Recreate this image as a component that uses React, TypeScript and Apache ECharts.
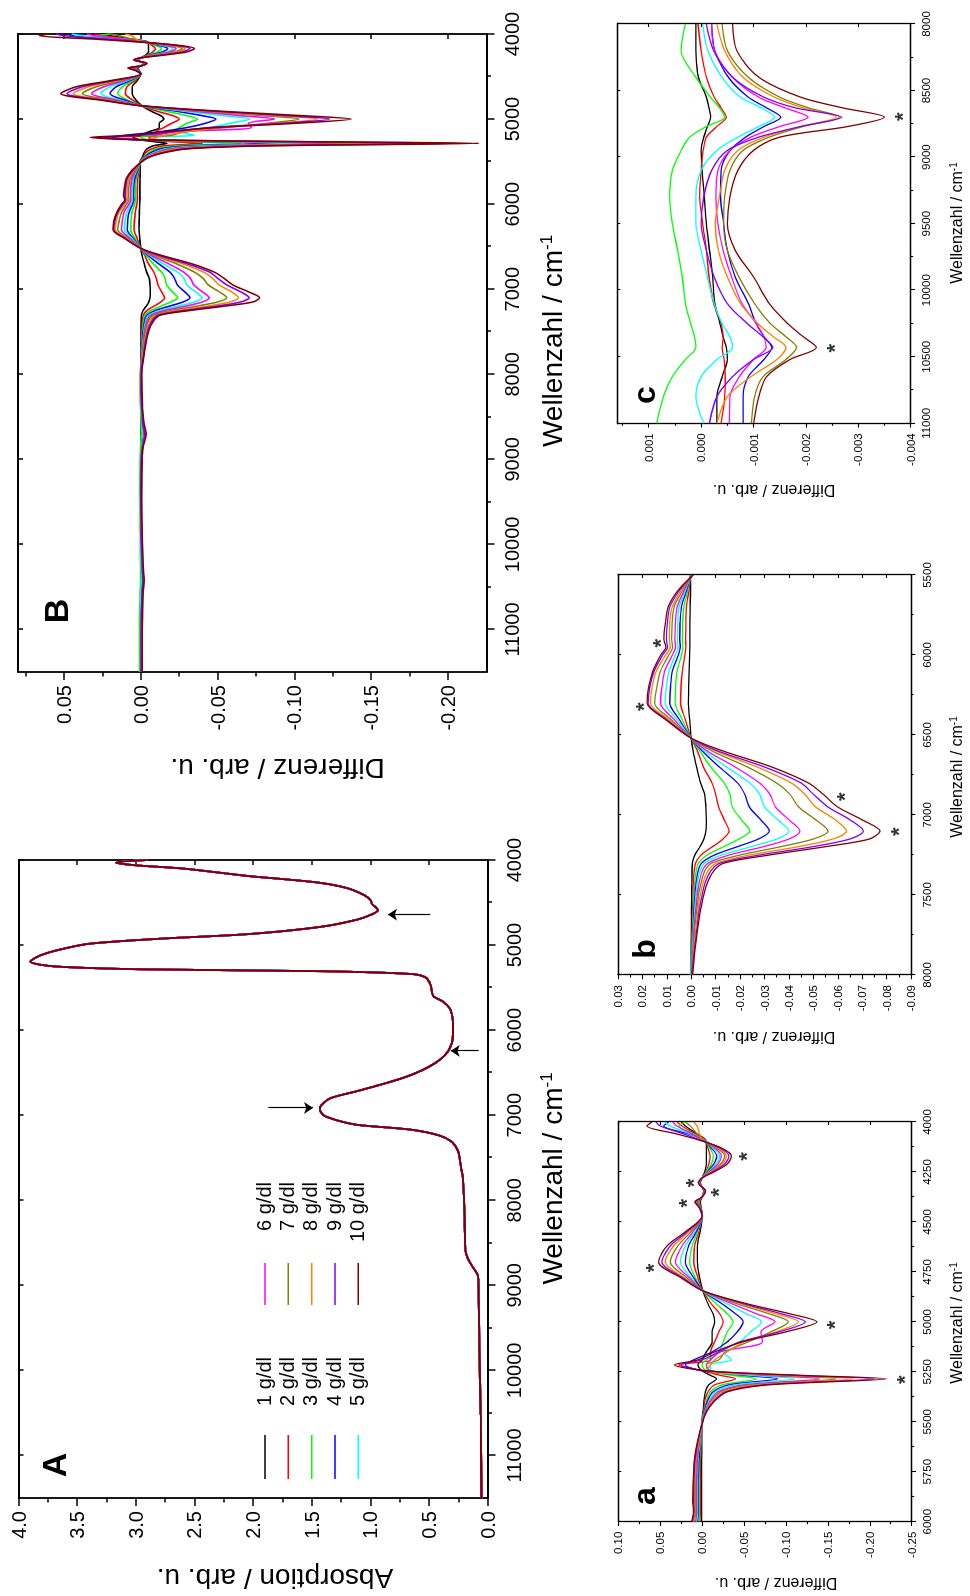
import React, { useEffect, useRef } from "react";
import * as echarts from "echarts";

const FONT = '"Liberation Sans", Arial, Helvetica, sans-serif';

const SERIES_NAMES = ["1 g/dl", "2 g/dl", "3 g/dl", "4 g/dl", "5 g/dl", "6 g/dl", "7 g/dl", "8 g/dl", "9 g/dl", "10 g/dl"];
const SERIES_COLORS = ["#000000", "#FF0000", "#00FF00", "#0000FF", "#00FFFF", "#FF00FF", "#808000", "#FF8000", "#8000FF", "#800000"];

// ---------- Panel A: absorption spectrum ----------
const WN_A = [4000, 4030, 4060, 4100, 4150, 4190, 4230, 4270, 4330, 4415, 4470, 4520, 4560, 4590, 4640, 4700, 4785, 4870, 4925, 4985, 5057, 5125, 5193, 5250, 5285, 5307, 5340, 5380, 5466, 5580, 5608, 5665, 5750, 5850, 5950, 6050, 6150, 6245, 6340, 6430, 6520, 6600, 6716, 6800, 6886, 6932, 7000, 7028, 7070, 7114, 7170, 7239, 7313, 7398, 7455, 7625, 7740, 8023, 8307, 8591, 8680, 8762, 8903, 9160, 9727, 10523, 11500];
const ABS_A = [2.90, 3.17, 3.02, 2.60, 2.28, 2.03, 1.70, 1.42, 1.20, 1.05, 1.00, 0.985, 0.95, 0.935, 0.99, 1.11, 1.42, 2.03, 2.79, 3.40, 3.66, 3.82, 3.90, 3.70, 2.94, 1.42, 0.65, 0.53, 0.487, 0.47, 0.457, 0.38, 0.32, 0.30, 0.295, 0.295, 0.305, 0.335, 0.40, 0.50, 0.64, 0.81, 1.11, 1.34, 1.42, 1.43, 1.40, 1.355, 1.26, 1.11, 0.655, 0.41, 0.305, 0.26, 0.245, 0.225, 0.21, 0.20, 0.195, 0.19, 0.17, 0.137, 0.08, 0.076, 0.07, 0.06, 0.052];
// arrows: [wavenumber, tail value, tip value]
const ARROWS_A = [[4642, 0.49, 0.85], [6244, 0.076, 0.314], [6915, 1.87, 1.49]];

// ---------- Difference spectra, 4000-5450 cm-1 (panel a) ----------
const WN_LOW = [4000, 4020, 4060, 4090, 4130, 4170, 4210, 4250, 4280, 4305, 4345, 4375, 4400, 4430, 4470, 4550, 4620, 4700, 4780, 4845, 4910, 4960, 5000, 5050, 5100, 5150, 5190, 5215, 5245, 5268, 5285, 5315, 5350, 5400, 5450];
const LOW_VALUES = [
  [0.025, 0.02, 0.006, -0.004, -0.005, -0.005, -0.005, -0.003, 0, 0.002, -0.002, 0, 0.002, 0.001, 0, 0.0024, 0.0056, 0.0056, 0.003, -0.001, -0.007, -0.013, -0.015, -0.012, -0.012, -0.005, 0, 0.005, 0, -0.01, -0.017, -0.008, -0.004, -0.002, -0.001],
  [0.03, 0.024, 0.008, -0.004, -0.007, -0.0095, -0.008, -0.004, 0, 0.0025, -0.002, 0, 0.003, 0.0012, 0, 0.004, 0.009, 0.01, 0.005, -0.001, -0.011, -0.021, -0.025, -0.02, -0.015, -0.01, -0.01, 0.028, 0, -0.022, -0.04, -0.015, -0.007, -0.003, -0.0015],
  [0.02, 0.028, 0.01, -0.003, -0.009, -0.0135, -0.011, -0.005, 0, 0.003, -0.0025, 0, 0.004, 0.0015, 0, 0.0056, 0.012, 0.015, 0.008, -0.001, -0.017, -0.03, -0.037, -0.03, -0.025, -0.02, -0.005, 0, -0.005, -0.036, -0.065, -0.024, -0.01, -0.005, -0.002],
  [0.04, 0.046, 0.016, -0.002, -0.011, -0.0175, -0.014, -0.006, 0, 0.003, -0.0025, 0, 0.005, 0.0018, 0, 0.0072, 0.016, 0.02, 0.01, -0.001, -0.024, -0.04, -0.049, -0.042, -0.03, -0.012, 0.01, 0.02, 0, -0.05, -0.09, -0.032, -0.013, -0.006, -0.0025],
  [0.045, 0.038, 0.014, -0.002, -0.013, -0.021, -0.017, -0.007, 0, 0.0035, -0.003, 0, 0.0055, 0.002, 0, 0.0091, 0.02, 0.026, 0.013, -0.001, -0.03, -0.053, -0.071, -0.058, -0.045, -0.025, -0.035, -0.01, -0.01, -0.06, -0.11, -0.04, -0.016, -0.008, -0.003],
  [0.035, 0.03, 0.012, -0.001, -0.015, -0.023, -0.019, -0.008, 0, 0.0035, -0.003, 0, 0.006, 0.0022, 0, 0.0111, 0.024, 0.032, 0.015, -0.001, -0.036, -0.065, -0.087, -0.07, -0.072, -0.022, -0.01, -0.005, -0.01, -0.077, -0.14, -0.05, -0.019, -0.009, -0.0035],
  [0.02, 0.014, 0.006, 0, -0.017, -0.027, -0.022, -0.009, 0, 0.004, -0.0035, 0, 0.007, 0.0025, 0, 0.0135, 0.029, 0.038, 0.018, -0.001, -0.042, -0.08, -0.103, -0.082, -0.055, -0.028, -0.02, -0.005, -0.008, -0.088, -0.16, -0.058, -0.022, -0.01, -0.004],
  [0.01, 0.006, 0.003, 0, -0.019, -0.029, -0.024, -0.01, 0, 0.004, -0.0035, 0, 0.0075, 0.0028, 0, 0.0163, 0.034, 0.044, 0.021, -0.001, -0.047, -0.088, -0.115, -0.088, -0.05, -0.03, -0.015, -0.01, -0.005, -0.099, -0.18, -0.065, -0.025, -0.011, -0.0045],
  [0.055, 0.05, 0.022, 0.002, -0.021, -0.032, -0.027, -0.012, 0, 0.0045, -0.004, 0, 0.008, 0.003, 0, 0.0183, 0.038, 0.048, 0.023, -0.001, -0.05, -0.095, -0.123, -0.092, -0.045, -0.02, 0, 0.025, -0.005, -0.113, -0.205, -0.074, -0.028, -0.013, -0.005],
  [0.06, 0.066, 0.03, 0.004, -0.023, -0.035, -0.03, -0.014, 0, 0.0045, -0.004, 0, 0.0085, 0.0032, 0, 0.0203, 0.042, 0.052, 0.025, -0.001, -0.054, -0.105, -0.137, -0.1, -0.048, -0.015, 0.005, 0.033, -0.005, -0.121, -0.22, -0.08, -0.03, -0.014, -0.005],
];

// ---------- Difference spectra, 5500-8000 cm-1 (panel b) ----------
const WN_MID = [5500, 5600, 5700, 5800, 5900, 5950, 6000, 6100, 6200, 6300, 6400, 6520, 6600, 6700, 6800, 6870, 6950, 7030, 7100, 7150, 7200, 7250, 7300, 7350, 7450, 7600, 7800, 8000];
const MID_VALUES = [
  [0.0003, 0.0003, 0.0005, 0.0006, 0.0006, 0.0006, 0.0007, 0.0009, 0.0011, 0.0012, 0.0007, 0, -0.0008, -0.0022, -0.0038, -0.0055, -0.006, -0.0062, -0.006, -0.0052, -0.0035, -0.0015, -0.0005, -0.0003, -0.0002, -0.0001, 0, 0.0001],
  [0.0003, 0.001, 0.002, 0.0022, 0.0023, 0.0022, 0.0026, 0.0036, 0.0042, 0.0044, 0.0025, 0, -0.0025, -0.005, -0.0085, -0.010, -0.0112, -0.0135, -0.0155, -0.013, -0.0085, -0.004, -0.0018, -0.0012, -0.0008, -0.0005, -0.0002, 0.00006],
  [0.0002, 0.0015, 0.003, 0.0035, 0.0036, 0.0034, 0.004, 0.0058, 0.0064, 0.0066, 0.0038, 0, -0.0035, -0.008, -0.0135, -0.0158, -0.0168, -0.0205, -0.024, -0.0195, -0.013, -0.0065, -0.003, -0.002, -0.0013, -0.0008, -0.0003, 0.0003],
  [0.0001, 0.002, 0.004, 0.0046, 0.0047, 0.0045, 0.0053, 0.0077, 0.0085, 0.0088, 0.005, 0, -0.0045, -0.0115, -0.019, -0.0219, -0.0238, -0.0285, -0.032, -0.0275, -0.0185, -0.0095, -0.0043, -0.0028, -0.0018, -0.0011, -0.0005, -0.0002],
  [0, 0.0025, 0.005, 0.0055, 0.0057, 0.0054, 0.0065, 0.0091, 0.0102, 0.0107, 0.006, 0, -0.0055, -0.0145, -0.024, -0.028, -0.030, -0.0355, -0.040, -0.035, -0.024, -0.0125, -0.0056, -0.0036, -0.0023, -0.0014, -0.0006, -0.00003],
  [0, 0.003, 0.0058, 0.0065, 0.0067, 0.0064, 0.0077, 0.0109, 0.012, 0.0126, 0.0072, 0, -0.0065, -0.018, -0.028, -0.0322, -0.0345, -0.040, -0.0445, -0.040, -0.029, -0.0155, -0.007, -0.0045, -0.0029, -0.0018, -0.0008, -0.0002],
  [-0.0002, 0.0037, 0.007, 0.0078, 0.008, 0.0076, 0.0092, 0.0126, 0.0141, 0.015, 0.0085, 0, -0.0085, -0.023, -0.035, -0.0404, -0.044, -0.051, -0.056, -0.050, -0.036, -0.020, -0.0085, -0.0055, -0.0036, -0.0022, -0.001, -0.0004],
  [-0.0003, 0.0043, 0.0078, 0.0088, 0.009, 0.0086, 0.0105, 0.0143, 0.016, 0.0167, 0.0095, 0, -0.010, -0.027, -0.041, -0.0465, -0.051, -0.059, -0.0636, -0.058, -0.043, -0.024, -0.0105, -0.0068, -0.0044, -0.0027, -0.0013, -0.0003],
  [-0.0005, 0.005, 0.0088, 0.0098, 0.0102, 0.0097, 0.0117, 0.0152, 0.017, 0.0177, 0.0103, 0, -0.011, -0.030, -0.045, -0.050, -0.056, -0.065, -0.0705, -0.065, -0.049, -0.028, -0.012, -0.008, -0.0052, -0.0032, -0.0016, -0.0001],
  [-0.0008, 0.0056, 0.0095, 0.0106, 0.0112, 0.0104, 0.0125, 0.0157, 0.0175, 0.0181, 0.0108, 0, -0.013, -0.033, -0.048, -0.054, -0.060, -0.070, -0.0773, -0.073, -0.054, -0.032, -0.0135, -0.0092, -0.006, -0.0037, -0.0019, -0.0006],
];

// ---------- Difference spectra, 8200-11000 cm-1 (panel c) ----------
const WN_HIGH = [8200, 8400, 8550, 8630, 8700, 8770, 8850, 8950, 9100, 9300, 9500, 9700, 9900, 10100, 10250, 10350, 10430, 10520, 10650, 10800, 11000];
const HIGH_VALUES = [
  [0.0001, 0.00005, -0.0001, -0.00015, -0.00018, -0.00012, -0.00005, 0, -0.00002, -0.00006, -0.0001, -0.00016, -0.00022, -0.00026, -0.00036, -0.00042, -0.00048, -0.0005, -0.0004, -0.0003, -0.0003],
  [0, -0.0001, -0.00025, -0.00038, -0.00048, -0.0003, -0.0001, -0.00004, 0, 0.00003, -0.00003, -0.0001, -0.00015, -0.00024, -0.00038, -0.00042, -0.0004, -0.00044, -0.00046, -0.00045, -0.00038],
  [0.00038, 0.0001, -0.00018, -0.00035, -0.00045, -0.0001, 0.00022, 0.00038, 0.00055, 0.0006, 0.00055, 0.00045, 0.00036, 0.0003, 0.0002, 0.00013, 0.0001, 0.0003, 0.00055, 0.00072, 0.00085],
  [-0.00026, -0.00052, -0.0009, -0.00125, -0.00152, -0.0012, -0.00085, -0.00055, -0.00038, -0.00037, -0.00043, -0.0005, -0.00065, -0.0009, -0.00105, -0.0012, -0.00135, -0.0012, -0.0009, -0.0008, -0.0008],
  [-0.00013, -0.0004, -0.00075, -0.00115, -0.0014, -0.0011, -0.0007, -0.0003, 0, 0.0001, 0.0001, 0, -0.00012, -0.00025, -0.0004, -0.00055, -0.0006, -0.0003, 0, 0.0001, -0.00005],
  [-0.00026, -0.0006, -0.0011, -0.0016, -0.00204, -0.0015, -0.00095, -0.00055, -0.00032, -0.00028, -0.00032, -0.00042, -0.00058, -0.00078, -0.00105, -0.0012, -0.00124, -0.001, -0.00073, -0.00055, -0.00054],
  [-0.0005, -0.0009, -0.0015, -0.00205, -0.00264, -0.00195, -0.0013, -0.0008, -0.00055, -0.00045, -0.00043, -0.0005, -0.00072, -0.00102, -0.00132, -0.00162, -0.00182, -0.00162, -0.00118, -0.00102, -0.00096],
  [-0.00045, -0.0008, -0.0014, -0.00195, -0.00258, -0.0019, -0.0012, -0.0007, -0.00045, -0.00035, -0.00027, -0.00033, -0.0005, -0.00075, -0.00108, -0.00138, -0.00162, -0.00145, -0.00095, -0.0005, -0.0003],
  [-0.00024, -0.0006, -0.0012, -0.0018, -0.00268, -0.0019, -0.0011, -0.0005, -0.0002, -0.00005, 0, -0.0001, -0.00025, -0.0005, -0.00088, -0.00118, -0.00137, -0.001, -0.0006, -0.0003, -0.00016],
  [-0.00068, -0.0011, -0.0019, -0.0027, -0.0035, -0.0028, -0.0015, -0.001, -0.0007, -0.00055, -0.0005, -0.00065, -0.001, -0.0013, -0.00165, -0.00195, -0.0022, -0.0017, -0.00125, -0.0011, -0.001],
];
// value of each difference spectrum at 11500 cm-1 (end of panel B)
const WN_TAIL = 11500;
const TAIL_VALUES = [-0.0003, -0.0004, 0.0008, -0.0008, 0, -0.0005, -0.001, -0.0003, -0.0002, -0.001];

// ---------- asterisks ----------
const STARS_a = [[4172, -0.047], [4305, 0.0165], [4352, -0.014], [4406, 0.0244], [4731, 0.064], [5015, -0.152], [5290, -0.235]];
const STARS_b = [[5927, 0.0146], [6323, 0.0214], [6885, -0.0606], [7104, -0.0828]];
const STARS_c = [[8696, -0.00374], [10436, -0.00245]];

// ---------- ticks ----------
const X_TICKS_AB = [4000, 5000, 6000, 7000, 8000, 9000, 10000, 11000];
const X_MINOR_AB = [4500, 5500, 6500, 7500, 8500, 9500, 10500];
const Y_TICKS_A = [0, 0.5, 1, 1.5, 2, 2.5, 3, 3.5, 4];
const Y_MINOR_A = [0.25, 0.75, 1.25, 1.75, 2.25, 2.75, 3.25, 3.75];
const Y_TICKS_B = [-0.2, -0.15, -0.1, -0.05, 0, 0.05];
const Y_MINOR_B = [-0.175, -0.125, -0.075, -0.025, 0.025, 0.075];
const X_TICKS_a = [4000, 4250, 4500, 4750, 5000, 5250, 5500, 5750, 6000];
const X_MINOR_a = [4125, 4375, 4625, 4875, 5125, 5375, 5625, 5875];
const Y_TICKS_a = [-0.25, -0.2, -0.15, -0.1, -0.05, 0, 0.05, 0.1];
const Y_MINOR_a = [-0.225, -0.175, -0.125, -0.075, -0.025, 0.025, 0.075];
const X_TICKS_b = [5500, 6000, 6500, 7000, 7500, 8000];
const X_MINOR_b = [5750, 6250, 6750, 7250, 7750];
const Y_TICKS_b = [-0.09, -0.08, -0.07, -0.06, -0.05, -0.04, -0.03, -0.02, -0.01, 0, 0.01, 0.02, 0.03];
const Y_MINOR_b = [-0.085, -0.075, -0.065, -0.055, -0.045, -0.035, -0.025, -0.015, -0.005, 0.005, 0.015, 0.025];
const X_TICKS_c = [8000, 8500, 9000, 9500, 10000, 10500, 11000];
const X_MINOR_c = [8250, 8750, 9250, 9750, 10250, 10750];
const Y_TICKS_c = [-0.004, -0.003, -0.002, -0.001, 0, 0.001];
const Y_MINOR_c = [-0.0035, -0.0025, -0.0015, -0.0005, 0.0005, 0.0015];

const zip = (xs: number[], ys: number[]) => xs.map((x, i) => [x, ys[i]]);

function buildOption() {
  const lowPts = (k: number) => zip(WN_LOW, LOW_VALUES[k]);
  const midPts = (k: number) => zip(WN_MID, MID_VALUES[k]);
  const highPts = (k: number) => zip(WN_HIGH, HIGH_VALUES[k]);
  const lastMid = WN_MID.length - 1;

  const panels: any[] = [
    {
      grid: [98, 18.6, 638, 469], font: 20, tl: 8, ml: 4.5, il: 5, lw: 1.8, tw: 1.5, xm: 16, ym: 13, lineW: 1.8,
      x: { min: 4000, max: 11500, ticks: X_TICKS_AB, minor: X_MINOR_AB },
      y: { min: 0, max: 4, ticks: Y_TICKS_A, minor: Y_MINOR_A, digits: 1 },
      lines: SERIES_COLORS.map(() => zip(WN_A, ABS_A)),
      arrows: ARROWS_A,
    },
    {
      grid: [924, 17.9, 638, 468.5], font: 20, tl: 8, ml: 4.5, il: 5, lw: 1.8, tw: 1.5, xm: 16, ym: 13, lineW: 1.6,
      x: { min: 4000, max: 11500, ticks: X_TICKS_AB, minor: X_MINOR_AB },
      y: { min: -0.225, max: 0.08, ticks: Y_TICKS_B, minor: Y_MINOR_B, digits: 2 },
      lines: SERIES_COLORS.map((_, k) => [...lowPts(k), ...midPts(k), ...highPts(k), [WN_TAIL, TAIL_VALUES[k]]]),
    },
    {
      grid: [74.3, 618.3, 399.7, 293.4], font: 11.5, tl: 4.3, ml: 2.5, il: 3, lw: 1.3, tw: 1.1, xm: 9.5, ym: 10, lineW: 1.3,
      x: { min: 4000, max: 6000, ticks: X_TICKS_a, minor: X_MINOR_a },
      y: { min: -0.25, max: 0.1, ticks: Y_TICKS_a, minor: Y_MINOR_a, digits: 2 },
      lines: SERIES_COLORS.map((_, k) => [...lowPts(k), ...midPts(k).filter((p) => p[0] <= 6000)]),
      stars: STARS_a,
    },
    {
      grid: [621, 618, 400, 293], font: 11.5, tl: 4.3, ml: 2.5, il: 3, lw: 1.3, tw: 1.1, xm: 9.5, ym: 10, lineW: 1.3,
      x: { min: 5500, max: 8000, ticks: X_TICKS_b, minor: X_MINOR_b },
      y: { min: -0.09, max: 0.03, ticks: Y_TICKS_b, minor: Y_MINOR_b, digits: 2 },
      lines: SERIES_COLORS.map((_, k) => midPts(k)),
      stars: STARS_b,
    },
    {
      grid: [1172.7, 617.3, 399.3, 293.4], font: 11.5, tl: 4.3, ml: 2.5, il: 3, lw: 1.3, tw: 1.1, xm: 9.5, ym: 10, lineW: 1.3,
      x: { min: 8000, max: 11000, ticks: X_TICKS_c, minor: X_MINOR_c },
      y: { min: -0.004, max: 0.0016, ticks: Y_TICKS_c, minor: Y_MINOR_c, digits: 3 },
      lines: SERIES_COLORS.map((_, k) => [[WN_MID[lastMid], MID_VALUES[k][lastMid]], ...highPts(k)]),
      stars: STARS_c,
    },
  ];

  const grid: any[] = [];
  const xAxis: any[] = [];
  const yAxis: any[] = [];
  const series: any[] = [];

  panels.forEach((p, gi) => {
    grid.push({ left: p.grid[0], top: p.grid[1], width: p.grid[2], height: p.grid[3], containLabel: false, show: false });
    const mk = (dim: string, spec: any, position: string, labels: number[] | null, ticks: number[], len: number, inside: boolean, showLine: boolean, margin: number) => ({
      gridIndex: gi,
      type: "value",
      position,
      min: spec.min,
      max: spec.max,
      inverse: dim === "x",
      axisLine: { show: showLine, onZero: false, lineStyle: { color: "#000", width: p.lw } },
      axisTick: { show: true, inside, length: len, customValues: ticks, lineStyle: { color: "#000", width: p.tw } },
      axisLabel: labels
        ? {
            show: true, customValues: labels, margin, fontSize: p.font, fontFamily: FONT, color: "#000",
            formatter: (v: number) => (dim === "x" ? String(Math.round(v)) : v.toFixed(spec.digits)),
          }
        : { show: false },
      splitLine: { show: false },
      splitArea: { show: false },
      minorTick: { show: false },
      minorSplitLine: { show: false },
      axisPointer: { show: false },
      silent: true,
    });
    const xi = xAxis.length;
    xAxis.push(mk("x", p.x, "bottom", p.x.ticks, p.x.ticks, p.tl, false, true, p.xm));
    xAxis.push(mk("x", p.x, "bottom", null, p.x.minor, p.ml, false, false, 0));
    xAxis.push(mk("x", p.x, "top", null, p.x.ticks, p.il, true, true, 0));
    const yi = yAxis.length;
    yAxis.push(mk("y", p.y, "left", p.y.ticks, p.y.ticks, p.tl, false, true, p.ym));
    yAxis.push(mk("y", p.y, "left", null, p.y.minor, p.ml, false, false, 0));
    yAxis.push(mk("y", p.y, "right", null, p.y.ticks, p.il, true, true, 0));

    p.lines.forEach((data: number[][], k: number) => {
      const s: any = {
        type: "line",
        name: SERIES_NAMES[k],
        data,
        xAxisIndex: xi,
        yAxisIndex: yi,
        showSymbol: false,
        symbol: "none",
        smooth: 0.3,
        clip: true,
        silent: true,
        lineStyle: { color: SERIES_COLORS[k], width: p.lineW },
        itemStyle: { color: SERIES_COLORS[k] },
        emphasis: { disabled: true },
      };
      if (k === 0 && p.arrows) {
        s.markLine = {
          silent: true,
          symbol: ["none", "arrow"],
          symbolSize: 9,
          precision: 6,
          label: { show: false },
          emphasis: { disabled: true },
          lineStyle: { color: "#000", width: 1.2, type: "solid" },
          data: p.arrows.map((a: number[]) => [{ coord: [a[0], a[1]] }, { coord: [a[0], a[2]] }]),
        };
      }
      series.push(s);
    });
    if (p.stars) {
      series.push({
        type: "scatter",
        data: p.stars,
        xAxisIndex: xi,
        yAxisIndex: yi,
        symbolSize: 1,
        itemStyle: { color: "rgba(0,0,0,0)" },
        silent: true,
        label: { show: true, position: "inside", formatter: "*", fontSize: 22, fontWeight: "bold", color: "#000", fontFamily: FONT, offset: [0, 5] },
        z: 10,
      });
    }
  });

  const graphic: any[] = [];
  const txt = (x: number, y: number, text: string, size: number, opts: any = {}) => ({
    type: "text",
    x,
    y,
    rotation: opts.rotation || 0,
    silent: true,
    style: {
      text,
      fill: "#000",
      fontSize: size,
      fontFamily: FONT,
      fontWeight: opts.bold ? "bold" : "normal",
      align: opts.align || "center",
      verticalAlign: "middle",
      rich: {
        sup: { fontSize: Math.round(size * 0.6), fontFamily: FONT, fill: "#000", verticalAlign: "top", lineHeight: Math.round(size * 0.6) },
      },
    },
  });
  const R = Math.PI / 2;
  // axis titles
  graphic.push(txt(417.5, 552, "Wellenzahl / cm{sup|-1}", 28));
  graphic.push(txt(1255, 552, "Wellenzahl / cm{sup|-1}", 28));
  graphic.push(txt(17.6, 275, "Absorption / arb. u.", 28, { rotation: R }));
  graphic.push(txt(827.6, 277.5, "Differenz / arb. u.", 28, { rotation: R }));
  graphic.push(txt(273, 956.4, "Wellenzahl / cm{sup|-1}", 16));
  graphic.push(txt(819, 956.4, "Wellenzahl / cm{sup|-1}", 16));
  graphic.push(txt(1373, 956.4, "Wellenzahl / cm{sup|-1}", 16));
  graphic.push(txt(12.1, 776, "Differenz / arb. u.", 16, { rotation: R }));
  graphic.push(txt(558.8, 774, "Differenz / arb. u.", 16, { rotation: R }));
  graphic.push(txt(1105.4, 774, "Differenz / arb. u.", 16, { rotation: R }));
  // panel letters
  graphic.push(txt(131, 54, "A", 34, { bold: true }));
  graphic.push(txt(985, 56, "B", 34, { bold: true }));
  graphic.push(txt(100, 644, "a", 32, { bold: true }));
  graphic.push(txt(647, 644, "b", 32, { bold: true }));
  graphic.push(txt(1201, 644, "c", 32, { bold: true }));
  // legend of panel A
  const rowY = [265, 288.3, 311.7, 335, 358.3];
  SERIES_NAMES.forEach((name, k) => {
    const col = k < 5 ? 0 : 1;
    const y = rowY[k % 5];
    const lx1 = col === 0 ? 117 : 291;
    const lx2 = col === 0 ? 161 : 333;
    const tx = col === 0 ? 239 : 414;
    graphic.push({ type: "line", silent: true, shape: { x1: lx1, y1: y, x2: lx2, y2: y }, style: { stroke: SERIES_COLORS[k], lineWidth: 1.6 } });
    graphic.push(txt(tx, y - 1.5, name, 20, { align: "right" }));
  });

  return {
    animation: false,
    backgroundColor: "#ffffff",
    textStyle: { fontFamily: FONT },
    grid,
    xAxis,
    yAxis,
    series,
    graphic,
  };
}

export default function App() {
  const ref = useRef<HTMLDivElement>(null);
  useEffect(() => {
    if (!ref.current) return;
    const chart = echarts.init(ref.current, null, { renderer: "svg" });
    chart.setOption(buildOption() as any);
    return () => chart.dispose();
  }, []);
  return (
    <div
      ref={ref}
      style={{
        position: "fixed",
        left: 0,
        top: 0,
        width: 1596,
        height: 970,
        background: "#ffffff",
        transformOrigin: "0 0",
        transform: "translate(0px, 1596px) rotate(-90deg)",
      }}
    />
  );
}
